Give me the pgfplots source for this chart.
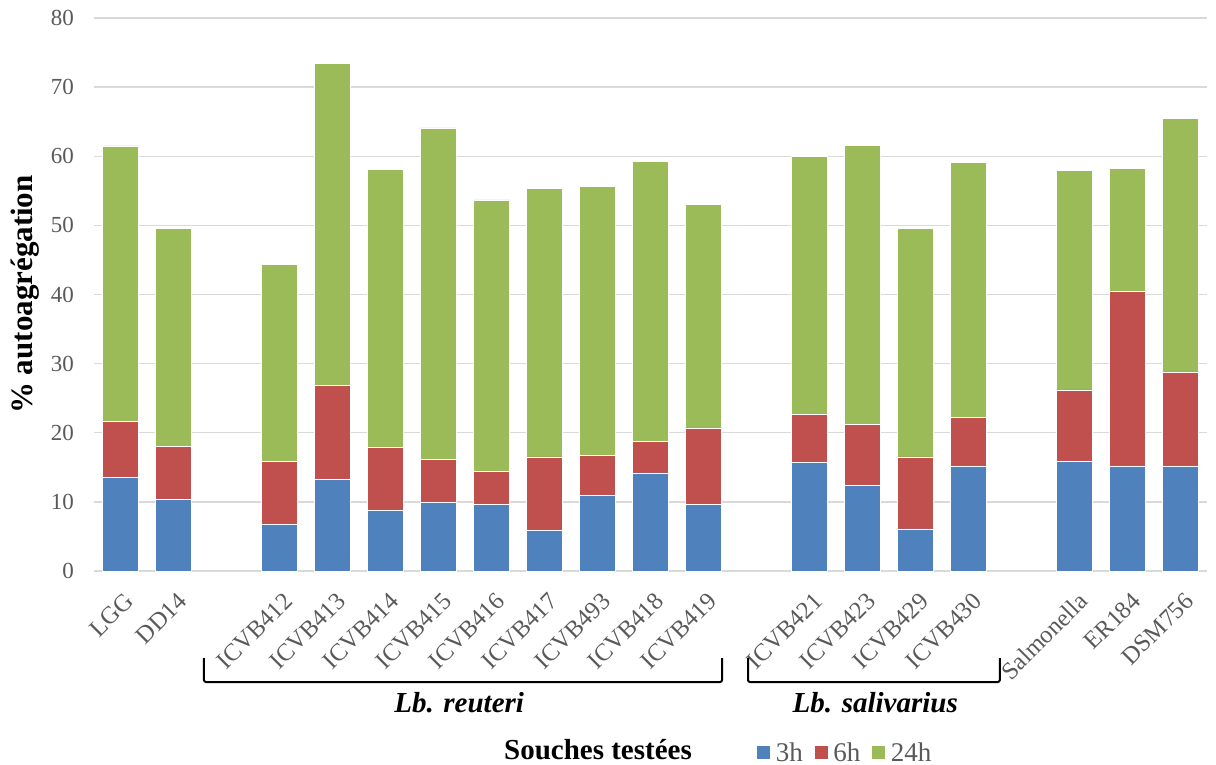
\documentclass[border=0pt]{standalone}
\usepackage{fontspec}
\setmainfont{Liberation Serif}
\usepackage{pgfplots}
\usepackage{pgfplotstable}
\pgfplotsset{compat=1.18}

\definecolor{c3h}{RGB}{79,129,189}
\definecolor{c6h}{RGB}{192,80,77}
\definecolor{c24h}{RGB}{155,187,89}
\definecolor{gridgray}{RGB}{217,217,217}
\definecolor{ticktext}{RGB}{89,89,89}

% x = slot of the strain (gaps between the groups), values are the stacked parts
\pgfplotstableread{
x   h3    h6    h24
0   13.5  8.2   39.8
1   10.4  7.6   31.6
3   6.7   9.1   28.6
4   13.3  13.5  46.6
5   8.8   9.1   40.2
6   10.0  6.1   48.0
7   9.6   4.8   39.3
8   5.9   10.6  38.9
9   10.9  5.8   38.9
10  14.2  4.6   40.4
11  9.7   11.0  32.3
13  15.7  7.0   37.3
14  12.4  8.8   40.4
15  6.1   10.4  33.1
16  15.2  7.0   36.9
18  15.8  10.4  31.7
19  15.2  25.2  17.8
20  15.2  13.6  36.7
}\data

\begin{document}
\begin{tikzpicture}
\useasboundingbox (-94bp,-194bp) rectangle (1122bp,571bp);
\begin{axis}[
    at={(0,0)}, anchor=south west,
    scale only axis,
    width=1113bp, height=553bp,
    ybar stacked,
    bar width=36bp,
    xmin=-0.5, xmax=20.5,
    ymin=0, ymax=80,
    ytick={0,10,...,80},
    xtick={0,1,3,4,5,6,7,8,9,10,11,13,14,15,16,18,19,20},
    xticklabels={LGG,DD14,ICVB412,ICVB413,ICVB414,ICVB415,ICVB416,ICVB417,ICVB493,ICVB418,ICVB419,ICVB421,ICVB423,ICVB429,ICVB430,Salmonella,ER184,DSM756},
    ymajorgrids,
    grid style={gridgray, line width=1.3bp},
    axis line style={draw=none},
    major tick length=0pt,
    /pgf/number format/assume math mode=true,
    tick label style={font=\fontsize{23bp}{27bp}\selectfont, text=ticktext},
    yticklabel style={inner sep=0pt, anchor=east, xshift=-20bp},
    xticklabel style={inner sep=0pt, anchor=east, xshift=9bp, yshift=-26bp, rotate=45,
        font=\fontsize{24.5bp}{28bp}\selectfont},
    clip=false,
    legend style={at={(0.5948,-0.3285)}, anchor=west, draw=none,
        fill=none, inner sep=0pt,
        legend columns=-1,
        font=\fontsize{27bp}{30bp}\selectfont, text=ticktext,
        /tikz/every odd column/.append style={column sep=3bp},
        /tikz/every even column/.append style={column sep=9bp}},
    legend image code/.code={\fill[#1] (0bp,-7bp) rectangle (14bp,7bp);},
]
\addplot[fill=c3h, draw=white, line width=0.6bp] table[x=x, y=h3] {\data};
\addplot[fill=c6h, draw=white, line width=0.6bp] table[x=x, y=h6] {\data};
\addplot[fill=c24h, draw=white, line width=0.6bp] table[x=x, y=h24] {\data};
\legend{3h,6h,24h}

% group brackets
\draw[line width=2bp, rounded corners=2bp]
    (axis cs:1.575,-12.6) -- (axis cs:1.575,-16.06) -- (axis cs:11.35,-16.06) -- (axis cs:11.35,-12.6);
\draw[line width=2bp, rounded corners=2bp]
    (axis cs:11.84,-12.6) -- (axis cs:11.84,-16.06) -- (axis cs:16.59,-16.06) -- (axis cs:16.59,-12.6);
\node[font=\fontsize{29bp}{33bp}\selectfont\bfseries\itshape] at (axis cs:6.39,-19.1) {Lb. reuteri};
\node[font=\fontsize{29bp}{33bp}\selectfont\bfseries\itshape] at (axis cs:14.24,-19.1) {Lb. salivarius};
\node[font=\fontsize{29bp}{33bp}\selectfont\bfseries] at (axis cs:9.01,-25.9) {Souches testées};
\node[font=\fontsize{31bp}{35bp}\selectfont\bfseries, rotate=90] at (axis description cs:-0.062,0.5) {\% autoagrégation};
\end{axis}
\end{tikzpicture}
\end{document}
